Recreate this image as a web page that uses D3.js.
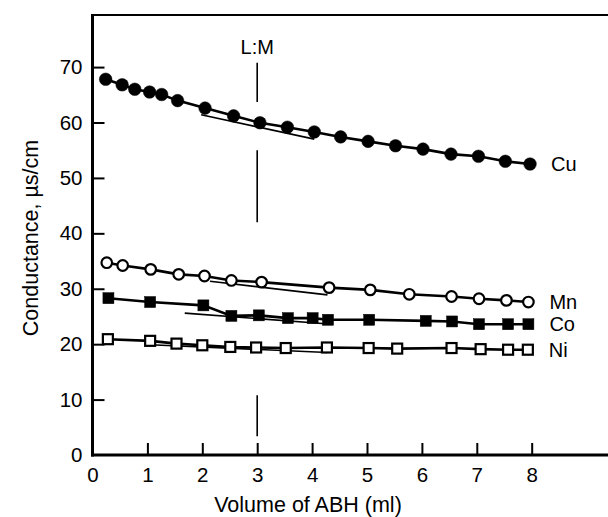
<!DOCTYPE html>
<html><head><meta charset="utf-8">
<script src="https://cdn.jsdelivr.net/npm/d3@7"></script>
<style>body{margin:0;background:#fff}svg{display:block}text{font-family:"Liberation Sans",Arial,Helvetica,sans-serif;fill:#000}</style>
</head><body>
<script>
// ---- data ----
const xTicks = [0,1,2,3,4,5,6,7,8];
const yTicks = [0,10,20,30,40,50,60,70];
const cuX = [0.24,0.54,0.77,1.04,1.26,1.55,2.05,2.57,3.05,3.55,4.04,4.52,5.02,5.52,6.02,6.53,7.03,7.52,7.97];
const cuY = [67.8,66.8,66.0,65.5,65.05,63.95,62.6,61.2,59.95,59.15,58.3,57.4,56.6,55.8,55.2,54.3,53.9,53.0,52.5];
const mnX = [0.26,0.55,1.06,1.57,2.04,2.53,3.08,4.31,5.06,5.77,6.54,7.04,7.54,7.94];
const mnY = [34.7,34.2,33.5,32.6,32.3,31.5,31.2,30.2,29.8,29.0,28.6,28.2,27.9,27.6];
const coX = [0.29,1.05,2.02,2.53,3.03,3.56,4.01,4.29,5.04,6.07,6.55,7.04,7.57,7.94];
const coY = [28.3,27.6,27.0,25.1,25.2,24.7,24.7,24.4,24.4,24.2,24.1,23.6,23.6,23.6];
const niX = [0.28,1.05,1.53,2.0,2.51,2.98,3.52,4.27,5.03,5.55,6.54,7.07,7.57,7.93];
const niY = [20.9,20.6,20.1,19.8,19.5,19.4,19.3,19.4,19.3,19.2,19.3,19.1,19.0,19.0];
// tangent (extrapolation) lines: [x1,y1,x2,y2]
const cuTan = [1.98,61.4,4.04,57.0];
const mnTan = [2.14,31.35,4.28,28.9];
const coTan = [1.68,25.6,4.37,23.6];
const niTan = [1.05,19.9,4.28,18.5];
const seriesNames = ["Cu","Mn","Co","Ni"];
const lmX = 3;
// L:M line segments (y data ranges)
const lmSegs = [[70.8,63.7],[55.0,42.0],[10.8,3.4]];

const W=608,H=517;
const x = d3.scaleLinear().domain([0,9.39]).range([92.5,608]);
const y = d3.scaleLinear().domain([0,79.4]).range([455,15]);
const svg = d3.select("body").append("svg").attr("width",W).attr("height",H);

// frame
svg.append("line").attr("x1",x(0)).attr("x2",W).attr("y1",y(79.4)).attr("y2",y(79.4)).attr("stroke","#000").attr("stroke-width",2);
svg.append("line").attr("x1",x(0)).attr("x2",x(0)).attr("y1",y(79.4)-1).attr("y2",y(0)+1.5).attr("stroke","#000").attr("stroke-width",3);
svg.append("line").attr("x1",x(0)-1.5).attr("x2",W).attr("y1",y(0)).attr("y2",y(0)).attr("stroke","#000").attr("stroke-width",3);

// axes
const xAxis = d3.axisBottom(x).tickValues(xTicks).tickSize(0).tickPadding(12).tickFormat(d3.format("d"));
const gx = svg.append("g").attr("transform",`translate(0,${y(0)})`).call(xAxis);
gx.select(".domain").remove();
gx.selectAll("text").attr("font-size",20.5).style("font-family","Liberation Sans, Arial, sans-serif");
gx.selectAll(".tick").filter(d=>d>0).append("line").attr("y1",0).attr("y2",-12).attr("stroke","#000").attr("stroke-width",2);

const yAxis = d3.axisLeft(y).tickValues(yTicks).tickSize(0).tickPadding(10).tickFormat(d3.format("d"));
const gy = svg.append("g").attr("transform",`translate(${x(0)},0)`).call(yAxis);
gy.select(".domain").remove();
gy.selectAll("text").attr("font-size",20.5).style("font-family","Liberation Sans, Arial, sans-serif");
gy.selectAll(".tick").filter(d=>d>0).append("line").attr("x1",0).attr("x2",12).attr("stroke","#000").attr("stroke-width",2);

// axis titles
svg.append("text").attr("x",308).attr("y",512).attr("text-anchor","middle").attr("font-size",21.5).text("Volume of ABH (ml)");
svg.append("text").attr("transform","translate(38,238) rotate(-90)").attr("text-anchor","middle").attr("font-size",21.5).text("Conductance, µs/cm");

// L:M
svg.append("text").attr("x",x(lmX)).attr("y",54).attr("text-anchor","middle").attr("font-size",20).text("L:M");
lmSegs.forEach(s=>svg.append("line").attr("x1",x(lmX)).attr("x2",x(lmX)).attr("y1",y(s[0])).attr("y2",y(s[1])).attr("stroke","#000").attr("stroke-width",1.6));

const series = [
  {name:"Cu", xs:cuX, ys:cuY, tan:cuTan, shape:"circle", fill:"#000"},
  {name:"Mn", xs:mnX, ys:mnY, tan:mnTan, shape:"circle", fill:"#fff"},
  {name:"Co", xs:coX, ys:coY, tan:coTan, shape:"square", fill:"#000"},
  {name:"Ni", xs:niX, ys:niY, tan:niTan, shape:"square", fill:"#fff"}
];
const line = d3.line().x(d=>x(d[0])).y(d=>y(d[1]));
series.forEach(s=>{
  const pts = s.xs.map((v,i)=>[v,s.ys[i]]);
  svg.append("path").attr("d",line(pts)).attr("fill","none").attr("stroke","#000").attr("stroke-width",2.6);
  svg.append("line").attr("x1",x(s.tan[0])).attr("y1",y(s.tan[1])).attr("x2",x(s.tan[2])).attr("y2",y(s.tan[3])).attr("stroke","#000").attr("stroke-width",1.6);
  const g = svg.append("g");
  if(s.shape==="circle"){
    g.selectAll("circle").data(pts).join("circle").attr("cx",d=>x(d[0])).attr("cy",d=>y(d[1]))
     .attr("r", s.fill==="#000"?6.3:5.3).attr("fill",s.fill).attr("stroke","#000").attr("stroke-width",s.fill==="#000"?0.5:2.2);
  } else {
    const a = s.fill==="#000"?11:10;
    g.selectAll("rect").data(pts).join("rect").attr("x",d=>x(d[0])-a/2).attr("y",d=>y(d[1])-a/2)
     .attr("width",a).attr("height",a).attr("fill",s.fill).attr("stroke","#000").attr("stroke-width",s.fill==="#000"?0.5:2.2);
  }
  const last = pts[pts.length-1];
  svg.append("text").attr("x",x(last[0])+21).attr("y",y(last[1])+7).attr("font-size",20).text(s.name);
});
</script>
</body></html>
